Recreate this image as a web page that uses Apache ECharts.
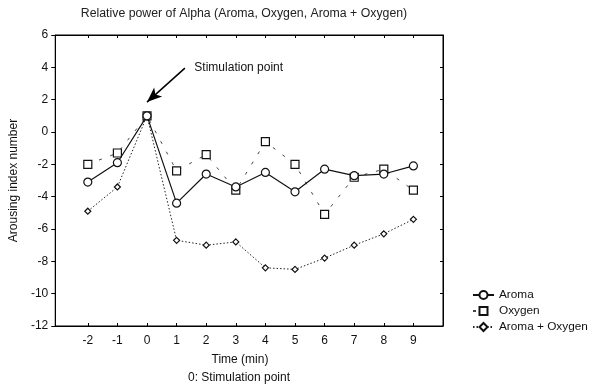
<!DOCTYPE html>
<html>
<head>
<meta charset="utf-8">
<script src="https://cdn.jsdelivr.net/npm/echarts@6/dist/echarts.min.js"></script>
<style>
  html, body { margin: 0; padding: 0; background: #fff; }
  #chart { width: 589px; height: 390px; }
</style>
</head>
<body>
<div id="chart"></div>
<script>
// Time in minutes relative to stimulation
const times = [-2, -1, 0, 1, 2, 3, 4, 5, 6, 7, 8, 9];
// Arousing index per condition
const aroma = [-3.1, -1.9, 1.0, -4.4, -2.6, -3.4, -2.5, -3.7, -2.3, -2.7, -2.6, -2.1];
const oxygen = [-2.0, -1.3, 1.0, -2.4, -1.4, -3.6, -0.6, -2.0, -5.1, -2.8, -2.3, -3.6];
const aromaOxygen = [-4.9, -3.4, 1.0, -6.7, -7.0, -6.8, -8.4, -8.5, -7.8, -7.0, -6.3, -5.4];

const font = 'Liberation Sans, Arial, sans-serif';
const ink = '#111';
const pairs = (vals) => times.map((t, i) => [t, vals[i]]);

const chart = echarts.init(document.getElementById('chart'), null, { renderer: 'canvas' });

const xBase = {
  type: 'value', min: -3.1, max: 10,
  splitLine: { show: false },
  axisLine: { show: true, onZero: false, lineStyle: { color: '#000', width: 1 } }
};
const yBase = {
  type: 'value', min: -12, max: 6, interval: 2,
  splitLine: { show: false },
  axisLine: { show: true, onZero: false, lineStyle: { color: '#000', width: 1 } }
};

chart.setOption({
  animation: false,
  backgroundColor: '#fff',
  textStyle: { fontFamily: font },
  title: {
    text: 'Relative power of Alpha (Aroma, Oxygen, Aroma + Oxygen)',
    left: 239, top: 3, textAlign: 'center',
    textStyle: { fontFamily: font, fontSize: 12.3, fontWeight: 'normal', color: '#222' }
  },
  grid: {
    left: 53, top: 35, right: 146, bottom: 64,
    show: true, borderColor: '#000', borderWidth: 1, backgroundColor: 'transparent'
  },
  legend: {
    orient: 'vertical', left: 472, top: 289, itemGap: 4, padding: 0,
    itemWidth: 21, itemHeight: 10,
    textStyle: { fontFamily: font, fontSize: 11.8, color: ink },
    data: ['Aroma', 'Oxygen', 'Aroma + Oxygen']
  },
  xAxis: [
    Object.assign({}, xBase, {
      position: 'bottom',
      axisTick: { show: true, inside: true, length: 3, customValues: times, lineStyle: { color: '#000' } },
      axisLabel: { customValues: times, fontFamily: font, fontSize: 12, color: ink, margin: 9 }
    }),
    Object.assign({}, xBase, {
      position: 'top',
      axisTick: { show: true, inside: true, length: 3, customValues: times, lineStyle: { color: '#000' } },
      axisLabel: { show: false }
    })
  ],
  yAxis: [
    Object.assign({}, yBase, {
      position: 'left',
      name: 'Arousing index number', nameLocation: 'middle', nameGap: 31, nameRotate: 90,
      nameTextStyle: { fontFamily: font, fontSize: 12, color: ink },
      axisTick: { show: true, inside: false, length: 4, lineStyle: { color: '#000' } },
      axisLabel: { fontFamily: font, fontSize: 12, color: ink, margin: 7 }
    }),
    Object.assign({}, yBase, {
      position: 'right',
      axisTick: { show: true, inside: true, length: 3, lineStyle: { color: '#000' } },
      axisLabel: { show: false }
    })
  ],
  graphic: [
    {
      type: 'text', x: 240, y: 360,
      style: { text: 'Time (min)', fontFamily: font, fontSize: 12, fill: ink, align: 'center', verticalAlign: 'middle' }
    },
    {
      type: 'text', x: 239, y: 378,
      style: { text: '0: Stimulation point', fontFamily: font, fontSize: 12, fill: ink, align: 'center', verticalAlign: 'middle' }
    }
  ],
  series: [
    {
      name: 'Aroma + Oxygen', type: 'line', data: pairs(aromaOxygen), z: 2,
      symbol: 'diamond', symbolSize: 6, showAllSymbol: true,
      lineStyle: { color: '#222', width: 1, type: [1.5, 2] },
      itemStyle: { color: '#fff', borderColor: ink, borderWidth: 1.2 }
    },
    {
      name: 'Oxygen', type: 'line', data: pairs(oxygen), z: 3,
      symbol: 'rect', symbolSize: 8,
      lineStyle: { color: '#444', width: 1, type: [3, 9] },
      itemStyle: { color: '#fff', borderColor: ink, borderWidth: 1.2 }
    },
    {
      name: 'Aroma', type: 'line', data: pairs(aroma), z: 4,
      symbol: 'circle', symbolSize: 8,
      lineStyle: { color: ink, width: 1.2, type: 'solid' },
      itemStyle: { color: '#fff', borderColor: ink, borderWidth: 1.2 },
      markLine: {
        silent: true, symbol: ['none', 'arrow'], symbolSize: [9, 15],
        lineStyle: { color: '#000', width: 1.5, type: 'solid' },
        label: { show: false },
        data: [[{ coord: [1.28, 3.95] }, { coord: [0.0, 1.85] }]]
      },
      markPoint: {
        silent: true, symbol: 'circle', symbolSize: 0,
        label: {
          show: true, position: 'right', distance: 0,
          formatter: 'Stimulation point',
          fontFamily: font, fontSize: 12, color: ink
        },
        data: [{ coord: [1.6, 3.97] }]
      }
    }
  ]
});
</script>
</body>
</html>
